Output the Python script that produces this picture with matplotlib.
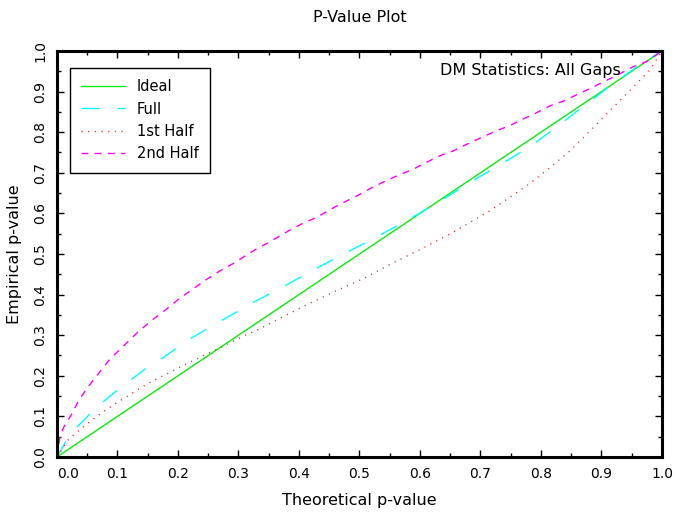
import numpy as np
import matplotlib
matplotlib.use('Agg')
import matplotlib.pyplot as plt
from matplotlib.ticker import MultipleLocator


# values
ideal_x = [0.0, 1.0]
ideal_y = [0.0, 1.0]

full_x = [0.0, 0.016, 0.034, 0.055, 0.078, 0.100, 0.123, 0.144, 0.169, 0.191,
          0.214, 0.236, 0.258, 0.280, 0.304, 0.326, 0.371, 0.417, 0.462, 0.509,
          0.553, 0.599, 0.644, 0.689, 0.735, 0.781, 0.826, 0.871, 0.918, 0.963,
          1.0]
full_y = [0.0, 0.042, 0.075, 0.107, 0.138, 0.165, 0.191, 0.215, 0.238, 0.261,
          0.286, 0.305, 0.324, 0.343, 0.363, 0.382, 0.417, 0.455, 0.491, 0.527,
          0.562, 0.600, 0.640, 0.682, 0.722, 0.764, 0.813, 0.865, 0.918, 0.966,
          1.0]

first_x = [0.0, 0.019, 0.030, 0.052, 0.074, 0.097, 0.119, 0.141, 0.163, 0.185,
           0.207, 0.229, 0.251, 0.273, 0.295, 0.317, 0.330, 0.373, 0.417, 0.461,
           0.506, 0.550, 0.595, 0.639, 0.661, 0.683, 0.716, 0.749, 0.782, 0.815,
           0.848, 0.881, 0.914, 0.947, 0.980, 1.0]
first_y = [0.0, 0.043, 0.058, 0.084, 0.109, 0.132, 0.152, 0.173, 0.191, 0.207,
           0.224, 0.240, 0.256, 0.271, 0.288, 0.304, 0.312, 0.345, 0.378, 0.409,
           0.439, 0.474, 0.507, 0.541, 0.559, 0.578, 0.607, 0.640, 0.674, 0.713,
           0.754, 0.803, 0.853, 0.903, 0.953, 1.0]

second_x = [0.0, 0.005, 0.008, 0.013, 0.025, 0.036, 0.052, 0.071, 0.088, 0.111,
            0.134, 0.157, 0.180, 0.202, 0.225, 0.247, 0.269, 0.293, 0.315, 0.327,
            0.360, 0.384, 0.407, 0.429, 0.451, 0.474, 0.498, 0.520, 0.542, 0.566,
            0.589, 0.611, 0.633, 0.655, 0.680, 0.702, 0.724, 0.748, 0.770, 0.793,
            0.815, 0.838, 0.860, 0.882, 0.906, 0.928, 0.952, 0.975, 1.0]
second_y = [0.0, 0.050, 0.062, 0.079, 0.107, 0.140, 0.174, 0.210, 0.242, 0.275,
            0.308, 0.337, 0.363, 0.390, 0.414, 0.437, 0.458, 0.478, 0.499, 0.510,
            0.537, 0.558, 0.576, 0.590, 0.609, 0.627, 0.645, 0.663, 0.679, 0.695,
            0.709, 0.726, 0.742, 0.754, 0.772, 0.787, 0.802, 0.816, 0.832, 0.848,
            0.865, 0.877, 0.893, 0.908, 0.926, 0.942, 0.961, 0.974, 1.0]

tick_values = np.round(np.arange(0.0, 1.01, 0.1), 1)
tick_labels = ['%.1f' % v for v in tick_values]


fig = plt.figure(figsize=(6.75, 5.19), dpi=100)
ax = fig.add_axes([0.0844, 0.1195, 0.8963, 0.7823])

ax.plot(ideal_x, ideal_y, color='#10e810', lw=1.0, label='Ideal')
ax.plot(full_x, full_y, color='#00ffff', lw=1.0, dashes=(13, 13), label='Full')
ax.plot(first_x, first_y, color='#ff2020', lw=1.0, dashes=(0.8, 4), label='1st Half')
ax.plot(second_x, second_y, color='#ff00ff', lw=1.0, dashes=(5, 4.5), label='2nd Half')

ax.set_xlim(0, 1)
ax.set_ylim(0, 1)

# ---------------------------------- axes ----------------------------------
for spine in ax.spines.values():
    spine.set_linewidth(2.2)

ax.set_xticks(tick_values)
ax.set_xticklabels(tick_labels)
ax.set_yticks(tick_values)
ax.set_yticklabels(tick_labels, rotation=90, va='center')
ax.xaxis.set_minor_locator(MultipleLocator(0.05))
ax.yaxis.set_minor_locator(MultipleLocator(0.05))

ax.tick_params(which='both', direction='in', top=True, right=True, width=1.0)
ax.tick_params(which='major', length=5, labelsize=10, pad=7)
ax.tick_params(which='minor', length=3)
ax.get_xticklabels()[0].set_ha('left')

ax.set_title('P-Value Plot', fontsize=11.5, pad=21)
ax.set_xlabel('Theoretical p-value', fontsize=11.5, labelpad=9)
ax.set_ylabel('Empirical p-value', fontsize=11.5, labelpad=8)

ax.text(0.932, 0.953, 'DM Statistics: All Gaps', transform=ax.transAxes,
        ha='right', va='center', fontsize=11.5)

leg = ax.legend(loc='upper left', bbox_to_anchor=(0.021, 0.959), fontsize=10.5,
                handlelength=3.0, handletextpad=0.8, labelspacing=0.5,
                borderpad=0.8, borderaxespad=0, fancybox=False, framealpha=1)
leg.get_frame().set_edgecolor('black')
leg.get_frame().set_linewidth(1.0)

plt.savefig('out.png', dpi=100)
